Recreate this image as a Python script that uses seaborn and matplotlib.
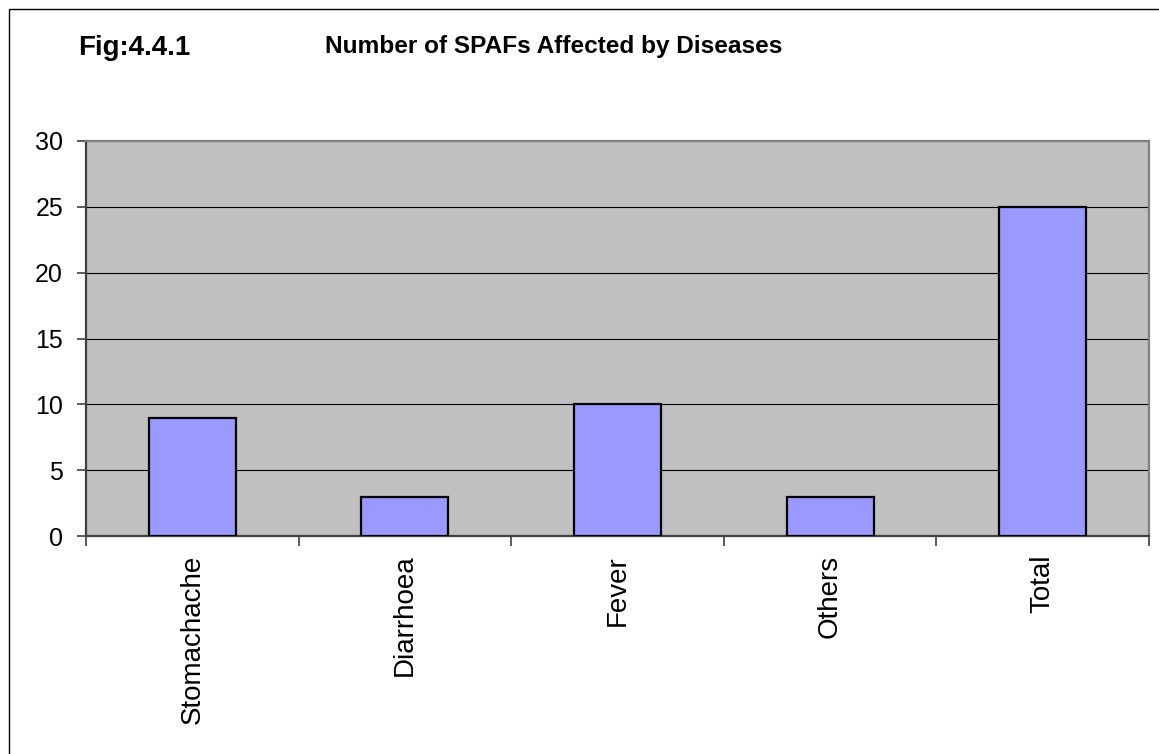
import matplotlib
matplotlib.use("Agg")
import matplotlib.pyplot as plt
import matplotlib.patches as mpatches
from matplotlib import font_manager
from matplotlib.ticker import FixedLocator, NullFormatter
import seaborn as sns
import pandas as pd

categories = ["Stomachache", "Diarrhoea", "Fever", "Others", "Total"]
values = [9, 3, 10, 3, 25]
y_ticks = [0, 5, 10, 15, 20, 25, 30]
fig_label = "Fig:4.4.1"
title = "Number of SPAFs Affected by Diseases"

sns.set_theme(style="white")
plt.rcParams["font.family"] = ["Liberation Sans", "DejaVu Sans"]

names = {f.name for f in font_manager.fontManager.ttflist}
if "Liberation Sans Narrow" in names:
    title_family = ["Liberation Sans Narrow", "Liberation Sans"]
    title_size = 21
else:
    title_family = ["Liberation Sans", "DejaVu Sans"]
    title_size = 17.6

W, H = 1159, 754
fig = plt.figure(figsize=(W / 100, H / 100), dpi=100)
fig.patch.set_facecolor("white")

ax = fig.add_axes([86 / W, 1 - 536 / H, (1149 - 86) / W, (536 - 141) / H])
ax.set_facecolor("#C0C0C0")

df = pd.DataFrame({"cat": categories, "val": values})
sns.barplot(data=df, x="cat", y="val", ax=ax, color="#9999FF", saturation=1,
            edgecolor="black", linewidth=1.6, width=0.41, zorder=3)

ax.set_xlim(-0.5, len(categories) - 0.5)
ax.set_ylim(0, 30)
ax.set_yticks(y_ticks)
ax.yaxis.grid(True, color="black", linewidth=0.8, zorder=1)
ax.set_axisbelow(True)

for b in ax.patches:
    b.set_zorder(3)

ax.set_xlabel("")
ax.set_ylabel("")

# major ticks on category boundaries, labels on minor ticks at centers
ax.xaxis.set_major_locator(FixedLocator([i - 0.5 for i in range(len(categories) + 1)]))
ax.xaxis.set_major_formatter(NullFormatter())
ax.xaxis.set_minor_locator(FixedLocator(list(range(len(categories)))))
ax.set_xticklabels(categories, minor=True, rotation=90, fontsize=20)
ax.tick_params(axis="x", which="major", direction="out", length=7, width=1.2,
               color="#404040", bottom=True)
ax.tick_params(axis="x", which="minor", length=0, pad=13.5, bottom=True)
ax.tick_params(axis="y", direction="out", length=6.5, width=1.2, color="#404040",
               labelsize=18, pad=10, left=True)
for t in ax.get_yticklabels():
    t.set_color("black")
for t in ax.get_xticklabels(minor=True):
    t.set_color("black")

for side in ["top", "right", "left", "bottom"]:
    ax.spines[side].set_visible(True)
    ax.spines[side].set_color("#808080")
    ax.spines[side].set_linewidth(1.6)
ax.spines["left"].set_color("#404040")
ax.spines["bottom"].set_color("#404040")

fig.text(78 / W, 1 - 48 / H, fig_label, fontsize=20, fontweight="bold",
         ha="left", va="center", color="black")
fig.text(325 / W, 1 - 46.5 / H, title, fontsize=title_size, fontweight="bold",
         family=title_family, ha="left", va="center", color="black")

# outer chart border
border = mpatches.Rectangle((8.5 / W, -0.1), 1.2, 1 - 8.5 / H + 0.1,
                            transform=fig.transFigure, fill=False,
                            edgecolor="black", linewidth=1.0, clip_on=False)
fig.patches.append(border)

fig.savefig("out.png", dpi=100)
